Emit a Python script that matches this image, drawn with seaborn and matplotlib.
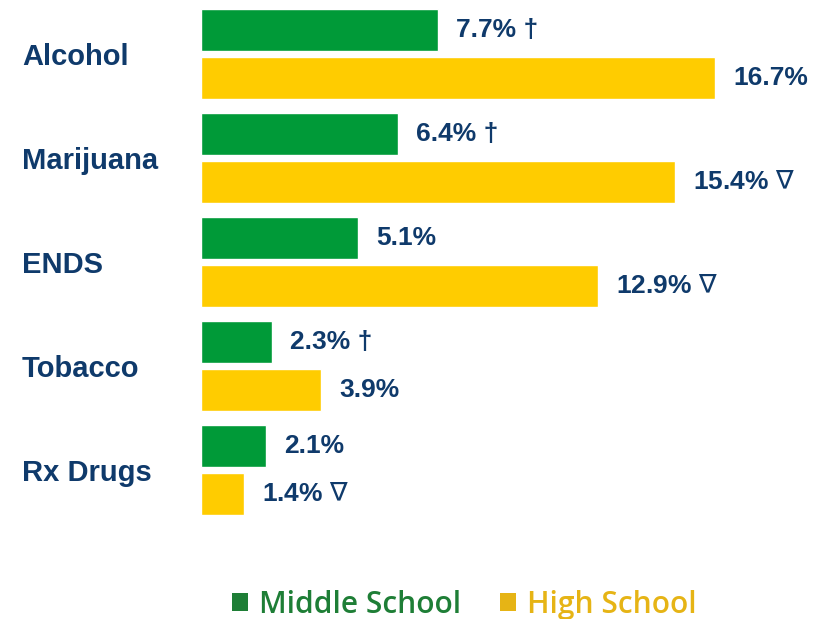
import matplotlib
matplotlib.use("Agg")
import matplotlib.pyplot as plt
from matplotlib.patches import Patch
import seaborn as sns
import pandas as pd

# Past-30-day use by school level
substances = ["Alcohol", "Marijuana", "ENDS", "Tobacco", "Rx Drugs"]
middle_school = [7.7, 6.4, 5.1, 2.3, 2.1]
high_school = [16.7, 15.4, 12.9, 3.9, 1.4]
middle_marks = ["†", "†", "", "†", ""]
high_marks = ["", r"$\nabla$", r"$\nabla$", "", r"$\nabla$"]
groups = ["Middle School", "High School"]

df = pd.DataFrame({
    "substance": substances * 2,
    "pct": middle_school + high_school,
    "group": [groups[0]] * len(substances) + [groups[1]] * len(substances),
})

NAVY = "#0F3A6B"
BAR_COLORS = {"Middle School": "#009A38", "High School": "#FFCC00"}
LEGEND_COLORS = {"Middle School": "#1E7E36", "High School": "#E6B415"}

sns.set_theme(style="white")
plt.rcParams["font.family"] = ["Liberation Sans", "DejaVu Sans"]

W, H = 823, 619
fig = plt.figure(figsize=(W / 100, H / 100), dpi=100)
ax = fig.add_axes([201 / W, (H - 560) / H, (W - 201) / W, 560 / H])

sns.barplot(data=df, y="substance", x="pct", hue="group", order=substances,
            hue_order=groups, palette=BAR_COLORS, orient="h",
            width=0.923, gap=0.125, legend=False, ax=ax, saturation=1)

ax.set_xlim(0, (W - 201) / 30.78)
ax.set_ylim(4.865, -0.519)

for container, vals, marks in zip(ax.containers, [middle_school, high_school],
                                  [middle_marks, high_marks]):
    labels = [f"{v:.1f}%" + (f" {m}" if m else "") for v, m in zip(vals, marks)]
    ax.bar_label(container, labels=labels, padding=13, fontsize=19,
                 fontweight="bold", color=NAVY)

ax.set_xlabel("")
ax.set_ylabel("")
ax.set_xticks([])
for s in ax.spines.values():
    s.set_visible(False)
ax.tick_params(axis="y", length=0, pad=(201 - 22) * 0.72)
for lbl in ax.get_yticklabels():
    lbl.set_horizontalalignment("left")
    lbl.set_fontsize(21)
    lbl.set_fontweight("bold")
    lbl.set_color(NAVY)

handles = [Patch(facecolor=LEGEND_COLORS[g], edgecolor="none") for g in groups]
leg = fig.legend(handles, groups, loc="center", ncol=2,
                 bbox_to_anchor=(464 / W, 1 - 605 / H), frameon=False,
                 prop={"family": ["Open Sans", "DejaVu Sans"], "size": 21.5,
                       "weight": "semibold"},
                 handlelength=0.55, handleheight=0.55, handletextpad=0.35,
                 columnspacing=1.3)
for txt, g in zip(leg.get_texts(), groups):
    txt.set_color(LEGEND_COLORS[g])

fig.savefig("out.png", dpi=100)
